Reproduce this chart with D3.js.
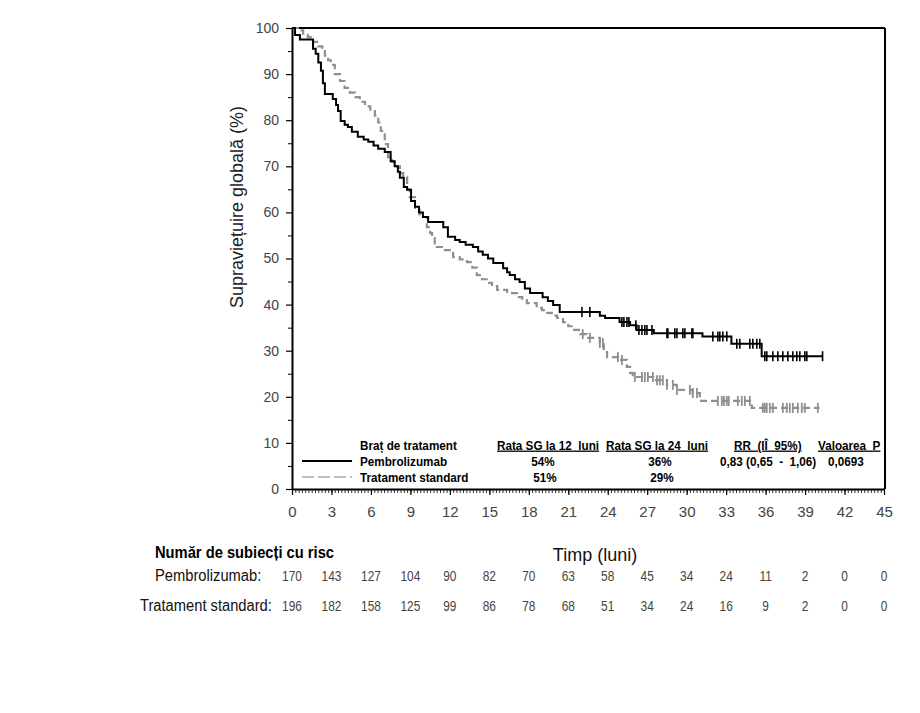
<!DOCTYPE html>
<html><head><meta charset="utf-8">
<script src="https://cdn.jsdelivr.net/npm/d3@7"></script>
<style>
body{margin:0;background:#fff;}
svg text{white-space:pre;}
</style></head>
<body>
<svg id="chart" width="920" height="713"></svg>
<script>
// ---- data ----
const xTicks = [0,3,6,9,12,15,18,21,24,27,30,33,36,39,42,45];
const yTicks = [0,10,20,30,40,50,60,70,80,90,100];

const pemTimes = [0,0.23,0.6,1.6,1.8,2.0,2.2,2.35,2.5,3.1,3.35,3.5,3.7,4.0,4.25,4.55,5.0,5.45,5.8,6.2,6.55,7.05,7.5,7.8,8.05,8.2,8.5,8.75,9.05,9.35,9.65,9.95,10.35,11.5,11.85,12.4,12.75,13.2,13.75,14.15,14.5,14.9,15.3,16.05,16.35,16.55,16.95,17.3,17.7,18.1,19.05,19.45,19.85,20.35,23.4,23.8,24.9,25.7,26.2,27.5,31.2,33.4,35.7];
const pemSurv  = [100,98.5,97.5,95.5,94.4,92.5,90.7,88,85.7,84.6,83.3,82,79.8,79,78.5,77.5,76.4,75.8,75.3,74.5,73.8,73.1,71.1,70,68.8,67.5,65.5,64.9,62.5,61.2,60,59,57.9,56.8,54.7,54,53.6,53,52.5,51.5,50.8,50,49,47.9,47,46.4,45.5,44.9,43.5,42.5,41.6,40.8,39.9,38.4,37.6,37.1,36.2,35.5,34.5,33.8,33.1,31.5,28.8];
const pemEnd = 40.33;
const pemCensor = [22.04,22.64,25.08,25.23,25.46,25.61,26.14,26.37,26.6,26.82,26.98,27.36,28.5,28.57,29.1,29.26,29.71,29.86,30.4,30.47,31.99,32.37,32.52,32.75,33.05,33.81,34.04,34.8,35.03,35.33,35.56,35.94,36.09,36.55,36.93,37.31,37.69,38.07,38.37,38.6,38.98,39.13,40.33];

const stdTimes = [0,0.45,0.85,1.2,1.6,2.0,2.3,2.5,2.75,2.95,3.25,3.65,4.0,4.4,4.8,5.15,5.55,5.95,6.3,6.55,6.75,7.05,7.3,7.6,7.8,8.2,8.45,8.75,8.95,9.35,9.7,10.25,10.5,10.65,10.85,11.0,11.5,12.25,12.75,13.3,13.7,14.05,14.45,14.8,15.2,15.6,16.35,17.1,17.5,17.85,18.6,19.0,19.4,19.75,20.15,20.6,21.0,21.35,21.9,22.4,23.4,23.7,23.95,24.9,25.45,25.7,25.9,27.45,28.5,29.25,30.45,31.0,34.95];
const stdSurv  = [100,99.5,98.5,98,97,96,95,94,93,92,90,88.5,87,86,85,84,83,82,81,79.5,77.7,74.8,72,71,70,68.5,67.7,65,63.3,61,59,56.8,55.5,54.4,53.3,52.5,51.8,50.3,49.8,49.2,48,46.4,45.5,44.7,44,43.2,42.5,41.6,41,40.3,39.3,38.8,38.2,37.6,37.1,36.2,35.3,34.5,33.6,32.8,31.7,30,28.6,28,26.5,25.2,24.3,23.6,22.6,21.5,20.8,19.1,17.6];
const stdEnd = 40.1;
const stdCensor = [22.1,22.64,23.4,23.63,24.77,25.08,26.06,26.6,26.82,27.05,27.43,27.74,27.96,28.19,28.5,28.95,29.26,30.24,30.47,30.78,32.37,32.67,32.83,33.05,33.2,33.89,34.19,34.42,34.8,35.79,35.94,36.09,36.32,36.55,37.31,37.61,37.84,38.07,38.45,38.75,38.98,39.97];

const riskPem = [170,143,127,104,90,82,70,63,58,45,34,24,11,2,0,0];
const riskStd = [196,182,158,125,99,86,78,68,51,34,24,16,9,2,0,0];

const legendHeaders = ["Rata SG la 12  luni","Rata SG la 24  luni","RR  (IÎ  95%)","Valoarea  P"];
const legendPem = ["54%","36%","0,83 (0,65  -  1,06)","0,0693"];
const legendStd = ["51%","29%","",""];

// ---- drawing ----
const svg = d3.select("#chart");
const x = d3.scaleLinear().domain([0,45]).range([292,884]);
const y = d3.scaleLinear().domain([0,100]).range([489,28]);
const sans = "Arial,'Liberation Sans',sans-serif";

// narrow text helper (horizontal compression emulates a condensed face)
function ntext(g, px, py, str, o){
  o = o || {};
  const t = g.append("text")
    .attr("transform",`translate(${px},${py}) scale(${o.sx||0.88},1)`)
    .attr("font-family",sans)
    .attr("font-size",o.size||13)
    .attr("font-weight",o.bold?"bold":"normal")
    .attr("fill",o.fill||"#000")
    .attr("text-anchor",o.anchor||"start")
    .text(str);
  if(o.underline) t.attr("text-decoration","underline");
  return t;
}

// frame top/right
svg.append("line").attr("x1",x(0)).attr("x2",x(45)+1).attr("y1",y(100)).attr("y2",y(100)).attr("stroke","#000").attr("stroke-width",2);
svg.append("line").attr("x1",x(45)+1).attr("x2",x(45)+1).attr("y1",y(100)).attr("y2",y(0)).attr("stroke","#000").attr("stroke-width",2);

// x axis minor
const minor = d3.range(0,45.001,0.25);
const gxm = svg.append("g").attr("transform",`translate(0,${y(0)})`)
  .call(d3.axisBottom(x).tickValues(minor).tickSize(4).tickFormat(""));
gxm.select(".domain").remove();
gxm.selectAll("line").attr("stroke","#000").attr("stroke-width",0.8);
const gx = svg.append("g").attr("transform",`translate(0,${y(0)})`)
  .call(d3.axisBottom(x).tickValues(xTicks).tickSize(6).tickPadding(11).tickSizeOuter(0));
gx.select(".domain").attr("stroke","#000").attr("stroke-width",2);
gx.selectAll("line").attr("stroke","#000").attr("stroke-width",1.2);
gx.selectAll("text").attr("font-family",sans).attr("font-size",15).attr("fill","#444");

// y axis
const gym = svg.append("g").attr("transform",`translate(${x(0)},0)`)
  .call(d3.axisLeft(y).tickValues(d3.range(5,100,10)).tickSize(4).tickFormat(""));
gym.select(".domain").remove();
gym.selectAll("line").attr("stroke","#000").attr("stroke-width",1);
const gy = svg.append("g").attr("transform",`translate(${x(0)},0)`)
  .call(d3.axisLeft(y).tickValues(yTicks).tickSize(6).tickPadding(7).tickSizeOuter(0));
gy.select(".domain").attr("stroke","#000").attr("stroke-width",2);
gy.selectAll("line").attr("stroke","#000").attr("stroke-width",1.2);
gy.selectAll("text").attr("font-family",sans).attr("font-size",14).attr("fill","#444");

svg.append("text").attr("transform",`translate(243,207) rotate(-90)`).attr("text-anchor","middle")
  .attr("font-family",sans).attr("font-size",18).attr("fill","#222").text("Supraviețuire globală (%)");

// curves
function stepPoints(times, surv, end){
  const pts = times.map((t,i)=>[t,surv[i]]);
  pts.push([end, surv[surv.length-1]]);
  return pts;
}
function levelAt(times, surv, t){
  const i = d3.bisectRight(times, t) - 1;
  return surv[Math.max(0,i)];
}
const line = d3.line().x(d=>x(d[0])).y(d=>y(d[1])).curve(d3.curveStepAfter);

svg.append("path").datum(stepPoints(stdTimes,stdSurv,stdEnd)).attr("d",line)
  .attr("fill","none").attr("stroke","#8f8f8f").attr("stroke-width",2.2).attr("stroke-dasharray","7,4");
svg.append("g").selectAll("line").data(stdCensor).join("line")
  .attr("x1",d=>x(d)).attr("x2",d=>x(d))
  .attr("y1",d=>y(levelAt(stdTimes,stdSurv,d))-5).attr("y2",d=>y(levelAt(stdTimes,stdSurv,d))+5)
  .attr("stroke","#8f8f8f").attr("stroke-width",1.8);

svg.append("path").datum(stepPoints(pemTimes,pemSurv,pemEnd)).attr("d",line)
  .attr("fill","none").attr("stroke","#000").attr("stroke-width",2);
svg.append("g").selectAll("line").data(pemCensor).join("line")
  .attr("x1",d=>x(d)).attr("x2",d=>x(d))
  .attr("y1",d=>y(levelAt(pemTimes,pemSurv,d))-5).attr("y2",d=>y(levelAt(pemTimes,pemSurv,d))+5)
  .attr("stroke","#000").attr("stroke-width",1.6);

// legend
const lg = svg.append("g");
const LO = {bold:true,size:13,sx:0.9};
ntext(lg,360,449.5,"Braț de tratament",LO);
const hx = [497,606,734,818];
legendHeaders.forEach((h,i)=>ntext(lg,hx[i],449.5,h,Object.assign({underline:true},LO)));
lg.append("line").attr("x1",302).attr("x2",352).attr("y1",461).attr("y2",461).attr("stroke","#000").attr("stroke-width",2);
lg.append("line").attr("x1",302).attr("x2",352).attr("y1",477).attr("y2",477).attr("stroke","#aaa").attr("stroke-width",1.6).attr("stroke-dasharray","12,4");
ntext(lg,360,466,"Pembrolizumab",LO);
ntext(lg,360,482,"Tratament standard",LO);
const vx = [543,660,720,828];
const va = ["middle","middle","start","start"];
legendPem.forEach((v,i)=>ntext(lg,vx[i],466,v,Object.assign({anchor:va[i]},LO)));
legendStd.forEach((v,i)=>{ if(v) ntext(lg,vx[i]+2,482,v,Object.assign({anchor:va[i]},LO)); });

// risk table
ntext(svg,155,558,"Număr de subiecți cu risc",{bold:true,size:16,sx:0.92});
svg.append("text").attr("x",595).attr("y",561).attr("text-anchor","middle").attr("font-family",sans).attr("font-size",18).attr("fill","#111").text("Timp (luni)");
ntext(svg,155,581,"Pembrolizumab:",{size:16,sx:0.92,fill:"#111"});
ntext(svg,140,611,"Tratament standard:",{size:16,sx:0.92,fill:"#111"});
const rt = svg.append("g");
riskPem.forEach((d,i)=>ntext(rt,x(xTicks[i]),581,String(d),{size:14,sx:0.85,fill:"#444",anchor:"middle"}));
riskStd.forEach((d,i)=>ntext(rt,x(xTicks[i]),611,String(d),{size:14,sx:0.85,fill:"#444",anchor:"middle"}));
</script>
</body></html>
